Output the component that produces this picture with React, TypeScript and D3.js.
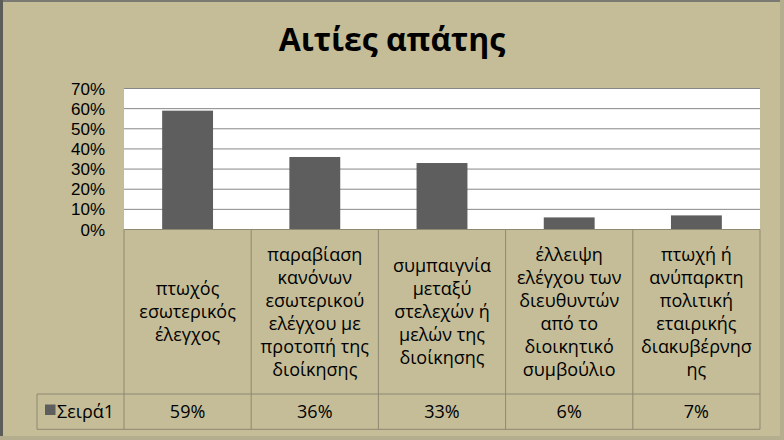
import React from "react";
import * as d3 from "d3";

const categories: string[][] = [
  ["πτωχός", "εσωτερικός", "έλεγχος"],
  ["παραβίαση", "κανόνων", "εσωτερικού", "ελέγχου με", "προτοπή της", "διοίκησης"],
  ["συμπαιγνία", "μεταξύ", "στελεχών ή", "μελών της", "διοίκησης"],
  ["έλλειψη", "ελέγχου των", "διευθυντών", "από το", "διοικητικό", "συμβούλιο"],
  ["πτωχή ή", "ανύπαρκτη", "πολιτική", "εταιρικής", "διακυβέρνησ", "ης"],
];
const values: number[] = [0.59, 0.36, 0.33, 0.06, 0.07];
const valueLabels: string[] = ["59%", "36%", "33%", "6%", "7%"];
const yTicks: number[] = [0, 0.1, 0.2, 0.3, 0.4, 0.5, 0.6, 0.7];
const seriesName = "Σειρά1";
const title = "Αιτίες απάτης";

const W = 784;
const H = 440;
const plotL = 124;
const plotR = 760;
const plotT = 88.5;
const plotB = 229.5;
const tableRow1B = 394;
const tableRow2B = 429.3;
const legendL = 37;

const BG = "#C4BD97";
const BAR = "#5E5E5E";
const GRID = "#878787";
const TLINE = "#8E8872";
const FONT = "'Open Sans', 'Noto Sans', sans-serif";
const TICKFONT = "'Liberation Sans', 'DejaVu Sans', sans-serif";

export default function App() {
  const idx = categories.map((_, i) => String(i));
  const cell = d3.scaleBand<string>().domain(idx).range([plotL, plotR]).padding(0);
  const x = d3
    .scaleBand<string>()
    .domain(idx)
    .range([plotL, plotR])
    .paddingInner(0.6)
    .paddingOuter(0.3);
  const y = d3.scaleLinear().domain([0, 0.7]).range([plotB, plotT]);
  const fmt = d3.format(".0%");
  const lineH = 23;
  const midRow1 = (plotB + tableRow1B) / 2;
  const midRow2 = (tableRow1B + tableRow2B) / 2;

  return (
    <div style={{ position: "absolute", left: 0, top: 0 }}>
      <svg width={W} height={H} style={{ display: "block" }} fontFamily={FONT}>
        <rect x={0} y={0} width={W} height={H} fill={BG} />
        {/* frame */}
        <rect x={0} y={0} width={W} height={2} fill="#7A7A72" />
        <rect x={0} y={0} width={3} height={H} fill="#5C5C58" />
        <rect x={780} y={0} width={4} height={H} fill="#B4AE8E" />
        <rect x={0} y={436} width={W} height={4} fill="#B4AE8E" />

        {/* title */}
        <text
          x={W / 2}
          y={51}
          textAnchor="middle"
          fontSize={32}
          fontWeight="bold"
          fill="#000"
        >
          {title}
        </text>

        {/* plot area */}
        <rect x={plotL} y={plotT} width={plotR - plotL} height={plotB - plotT} fill="#fff" />
        {yTicks.map((t) => (
          <line
            key={"g" + t}
            x1={plotL}
            x2={plotR}
            y1={y(t)}
            y2={y(t)}
            stroke={GRID}
            strokeWidth={1}
          />
        ))}
        {yTicks.map((t) => (
          <text
            key={"t" + t}
            x={105}
            y={y(t)}
            dy="0.36em"
            textAnchor="end"
            fontSize={17}
            fontFamily={TICKFONT}
            fill="#000"
          >
            {fmt(t)}
          </text>
        ))}

        {/* bars */}
        {values.map((v, i) => (
          <rect
            key={"b" + i}
            x={x(String(i))}
            y={y(v)}
            width={x.bandwidth()}
            height={y(0) - y(v)}
            fill={BAR}
          />
        ))}

        {/* data table */}
        <line x1={plotL} x2={plotR} y1={plotB} y2={plotB} stroke={TLINE} />
        <line x1={legendL} x2={plotR} y1={tableRow1B} y2={tableRow1B} stroke={TLINE} />
        <line x1={legendL} x2={plotR} y1={tableRow2B} y2={tableRow2B} stroke={TLINE} />
        <line x1={legendL} x2={legendL} y1={tableRow1B} y2={tableRow2B} stroke={TLINE} />
        {idx.map((k) => (
          <line
            key={"v" + k}
            x1={cell(k)}
            x2={cell(k)}
            y1={plotB}
            y2={tableRow2B}
            stroke={TLINE}
          />
        ))}
        <line x1={plotR} x2={plotR} y1={plotB} y2={tableRow2B} stroke={TLINE} />

        {categories.map((lines, i) => {
          const cx = (cell(String(i)) as number) + cell.bandwidth() / 2;
          const y0 = midRow1 - ((lines.length - 1) * lineH) / 2;
          return (
            <text key={"c" + i} textAnchor="middle" fontSize={18} fill="#000">
              {lines.map((ln, j) => (
                <tspan key={j} x={cx} y={y0 + j * lineH} dy="0.35em">
                  {ln}
                </tspan>
              ))}
            </text>
          );
        })}

        {valueLabels.map((lab, i) => (
          <text
            key={"vl" + i}
            x={(cell(String(i)) as number) + cell.bandwidth() / 2}
            y={midRow2}
            dy="0.36em"
            textAnchor="middle"
            fontSize={18}
            fill="#000"
          >
            {lab}
          </text>
        ))}

        {/* legend key */}
        <rect x={45} y={404.5} width={10.5} height={10.5} fill={BAR} />
        <text x={57} y={midRow2} dy="0.36em" fontSize={18} fill="#000">
          {seriesName}
        </text>
      </svg>
    </div>
  );
}
